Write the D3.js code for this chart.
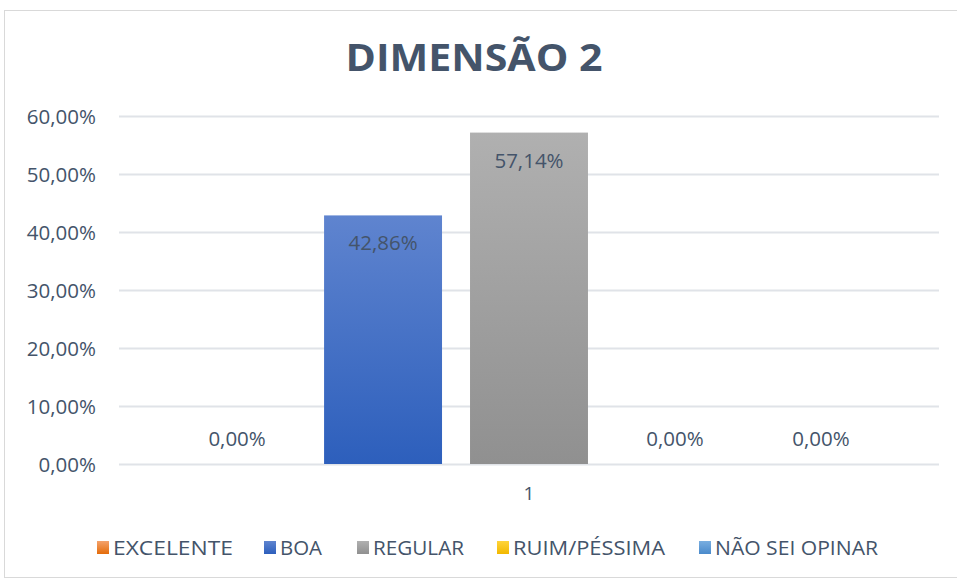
<!DOCTYPE html>
<html>
<head>
<meta charset="utf-8">
<script src="https://cdn.jsdelivr.net/npm/d3@7/dist/d3.min.js"></script>
<style>
  html, body { margin: 0; padding: 0; background: #fff; }
  svg text { font-family: "Open Sans", "Noto Sans", sans-serif; }
</style>
</head>
<body>
<svg id="chart" width="957" height="580"></svg>
<script>
// Chart data
const title = "DIMENSÃO 2";
const categories = ["1"];
const seriesNames = ["EXCELENTE", "BOA", "REGULAR", "RUIM/PÉSSIMA", "NÃO SEI OPINAR"];
const seriesValues = [0.0, 0.4286, 0.5714, 0.0, 0.0];
const yTicks = [0, 0.1, 0.2, 0.3, 0.4, 0.5, 0.6];
const seriesColors = [
  ["#f4a26c", "#e46c0a"],
  ["#5f84cf", "#2d5fbc"],
  ["#b0b0b0", "#909090"],
  ["#ffd43a", "#f2b800"],
  ["#79aee0", "#4a8acb"]
];

const svg = d3.select("#chart");
const W = 957, H = 580;
const margin = { left: 119, right: 18, top: 116, bottom: 116 };
const plotW = W - margin.left - margin.right;
const plotH = H - margin.top - margin.bottom;
const textColor = "#44546a";

// outer chart frame
svg.append("rect")
  .attr("x", 4.5).attr("y", 10.5)
  .attr("width", W).attr("height", 567)
  .attr("fill", "#fff").attr("stroke", "#d9d9d9").attr("stroke-width", 1);

// gradients
const defs = svg.append("defs");
seriesColors.forEach((c, i) => {
  const g = defs.append("linearGradient")
    .attr("id", "grad" + i)
    .attr("x1", 0).attr("y1", 0).attr("x2", 0).attr("y2", 1);
  g.append("stop").attr("offset", "0%").attr("stop-color", c[0]);
  g.append("stop").attr("offset", "100%").attr("stop-color", c[1]);
});

// title
svg.append("text")
  .attr("x", 474).attr("y", 71)
  .attr("text-anchor", "middle")
  .attr("font-size", 37).attr("font-weight", 700)
  .attr("fill", textColor)
  .attr("textLength", 257).attr("lengthAdjust", "spacingAndGlyphs")
  .text(title);

const g = svg.append("g").attr("transform", `translate(${margin.left},${margin.top})`);

const y = d3.scaleLinear().domain([0, 0.6]).range([plotH, 0]);
const x0 = d3.scaleBand().domain(categories).range([0, plotW]);
const x1 = d3.scaleBand().domain(seriesNames)
  .range([x0.bandwidth() * 0.0721, x0.bandwidth() * (1 - 0.0721)])
  .paddingInner(0.1918).paddingOuter(0);

// gridlines
g.append("g")
  .selectAll("line")
  .data(yTicks)
  .join("line")
  .attr("x1", 0).attr("x2", plotW)
  .attr("y1", d => Math.round(y(d)) + 0.5).attr("y2", d => Math.round(y(d)) + 0.5)
  .attr("stroke", "#e0e3e8").attr("stroke-width", 2);

// y axis
const fmt = d => d3.format(".2f")(d * 100).replace(".", ",") + "%";
const yAxis = g.append("g")
  .attr("transform", "translate(-23,0)")
  .call(d3.axisLeft(y).tickValues(yTicks).tickFormat(fmt).tickSize(0).tickPadding(0));
yAxis.select(".domain").remove();
yAxis.selectAll("text")
  .attr("font-size", 20.5).attr("fill", textColor)
  .attr("font-family", "Open Sans, sans-serif")
  .attr("dy", "0.35em");

// x axis
const xAxis = g.append("g")
  .attr("transform", `translate(0,${plotH})`)
  .call(d3.axisBottom(x0).tickSize(0).tickPadding(23));
xAxis.select(".domain").remove();
xAxis.selectAll("text")
  .attr("font-size", 19).attr("fill", textColor)
  .attr("font-family", "Open Sans, sans-serif");

// bars
const bars = g.append("g")
  .selectAll("g")
  .data(categories)
  .join("g")
  .attr("transform", d => `translate(${x0(d)},0)`);

bars.selectAll("rect")
  .data(seriesNames.map((s, i) => ({ s, i, v: seriesValues[i] })))
  .join("rect")
  .attr("x", d => x1(d.s))
  .attr("y", d => y(d.v))
  .attr("width", x1.bandwidth())
  .attr("height", d => plotH - y(d.v))
  .attr("fill", d => `url(#grad${d.i})`);

// value labels (inside end)
bars.selectAll("text.val")
  .data(seriesNames.map((s, i) => ({ s, i, v: seriesValues[i] })))
  .join("text")
  .attr("class", "val")
  .attr("x", d => x1(d.s) + x1.bandwidth() / 2)
  .attr("y", d => d.v > 0 ? y(d.v) + 35 : y(d.v) - 18)
  .attr("text-anchor", "middle")
  .attr("font-size", 20.5).attr("fill", textColor)
  .text(d => fmt(d.v));

// legend
const legendX = [97, 264, 357, 497, 699];
const legendW = [120, 42, 91, 152, 163];
const legend = svg.append("g");
seriesNames.forEach((s, i) => {
  legend.append("rect")
    .attr("x", legendX[i]).attr("y", 541)
    .attr("width", 12).attr("height", 13)
    .attr("fill", `url(#grad${i})`);
  legend.append("text")
    .attr("x", legendX[i] + 16).attr("y", 555)
    .attr("font-size", 20).attr("fill", textColor)
    .attr("textLength", legendW[i]).attr("lengthAdjust", "spacingAndGlyphs")
    .text(s);
});
</script>
</body>
</html>
